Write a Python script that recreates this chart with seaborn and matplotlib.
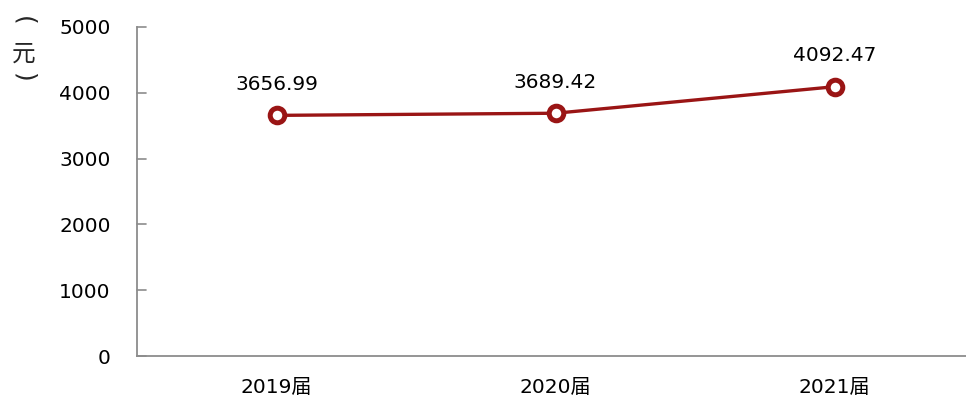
import matplotlib
matplotlib.use("Agg")
import matplotlib.pyplot as plt
import seaborn as sns
import pandas as pd

categories = ["2019届", "2020届", "2021届"]
values = [3656.99, 3689.42, 4092.47]
yticks = [0, 1000, 2000, 3000, 4000, 5000]

sns.set_theme(style="white")
plt.rcParams['font.family'] = ['DejaVu Sans', 'Noto Sans CJK SC']

df = pd.DataFrame({"cat": categories, "val": values})
red = "#9A1515"
axis_gray = "#8C8C8C"

fig = plt.figure(figsize=(9.66, 4.03), dpi=100)
ax = fig.add_axes([137/966, 1-356/403, 837/966, (356-27)/403])

sns.lineplot(data=df, x="cat", y="val", ax=ax, color=red, linewidth=2.4,
             marker="o", markersize=10.5, markerfacecolor="white",
             markeredgecolor=red, markeredgewidth=3.6, sort=False)

for i, v in enumerate(values):
    ax.text(i, v + 330, f"{v:.2f}", ha="center", va="bottom", fontsize=14.5, color="black")

ax.set_xlim(-0.5, 2.5)
ax.set_ylim(0, 5000)
ax.set_yticks(yticks)
ax.set_yticklabels([str(t) for t in yticks], fontsize=14.5, color="black")
ax.set_xticks(range(len(categories)))
ax.set_xticklabels(categories, fontsize=14.5, color="black")
ax.tick_params(axis="x", length=0, pad=16)
ax.tick_params(axis="y", length=0, pad=19)
ax.set_xticks([0.5, 1.5], minor=True)
ax.tick_params(axis="x", which="minor", direction="in", length=9, color=axis_gray, width=1.2)
ax.set_xlabel("")
ax.set_ylabel("")
for s in ["top", "right"]:
    ax.spines[s].set_visible(False)
for s in ["left", "bottom"]:
    ax.spines[s].set_color(axis_gray)
    ax.spines[s].set_linewidth(1.3)
for t in yticks:
    ax.plot([-0.5, -0.5 + 9/279], [t, t], color=axis_gray, lw=1.2, clip_on=False, zorder=1)

cjk = ['Noto Sans CJK SC', 'DejaVu Sans']
fig.text(23/966, 1-21/403, "(", ha="center", va="center", fontsize=18, rotation=-90)
fig.text(24/966, 1-54/403, "元", ha="center", va="center", fontsize=17, family=cjk)
fig.text(23/966, 1-78/403, ")", ha="center", va="center", fontsize=18, rotation=-90)

fig.savefig("out.png", dpi=100)
